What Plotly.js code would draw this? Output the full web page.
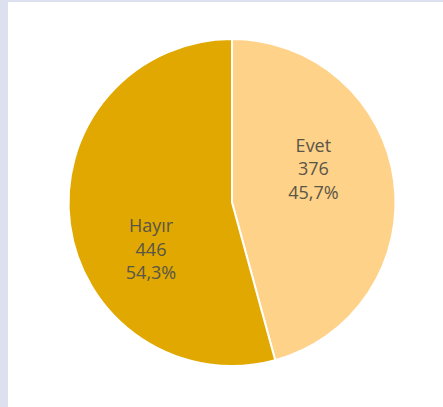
<!DOCTYPE html>
<html>
<head>
<meta charset="utf-8">
<script src="https://cdn.plot.ly/plotly-3.0.1.min.js"></script>
<style>html,body{margin:0;padding:0;background:#fff;}#chart{width:443px;height:407px;}</style>
</head>
<body>
<div id="chart"></div>
<script>
const labels = ["Evet", "Hayır"];
const values = [376, 446];
const colors = ["#FFD28A", "#E0A800"];

const trace = {
  type: "pie",
  labels: labels,
  values: values,
  sort: false,
  direction: "clockwise",
  rotation: 0,
  marker: {colors: colors, line: {color: "#FFFFFF", width: 2}},
  texttemplate: [
    "%{label}<br>%{value}<br>%{percent:.1%}<br>&nbsp;<br>&nbsp;",
    "&nbsp;<br>&nbsp;<br>&nbsp;<br>%{label}<br>%{value}<br>%{percent:.1%}"
  ],
  textposition: "inside",
  insidetextorientation: "horizontal",
  textfont: {family: "Open Sans, Noto Sans, sans-serif", size: 18, color: "#595547"},
  hoverinfo: "none",
  domain: {x: [0.1535, 0.894], y: [0.1007, 0.904]}
};

const layout = {
  width: 443,
  height: 407,
  margin: {l: 0, r: 0, t: 0, b: 0},
  paper_bgcolor: "#DDE1EF",
  separators: ",.",
  showlegend: false,
  shapes: [{
    type: "rect", xref: "paper", yref: "paper",
    x0: 8/443, x1: 1, y0: 0, y1: 1 - 2/407,
    fillcolor: "#FFFFFF", line: {width: 0}, layer: "below"
  }]
};

Plotly.newPlot("chart", [trace], layout, {displayModeBar: false, staticPlot: true});
</script>
</body>
</html>
